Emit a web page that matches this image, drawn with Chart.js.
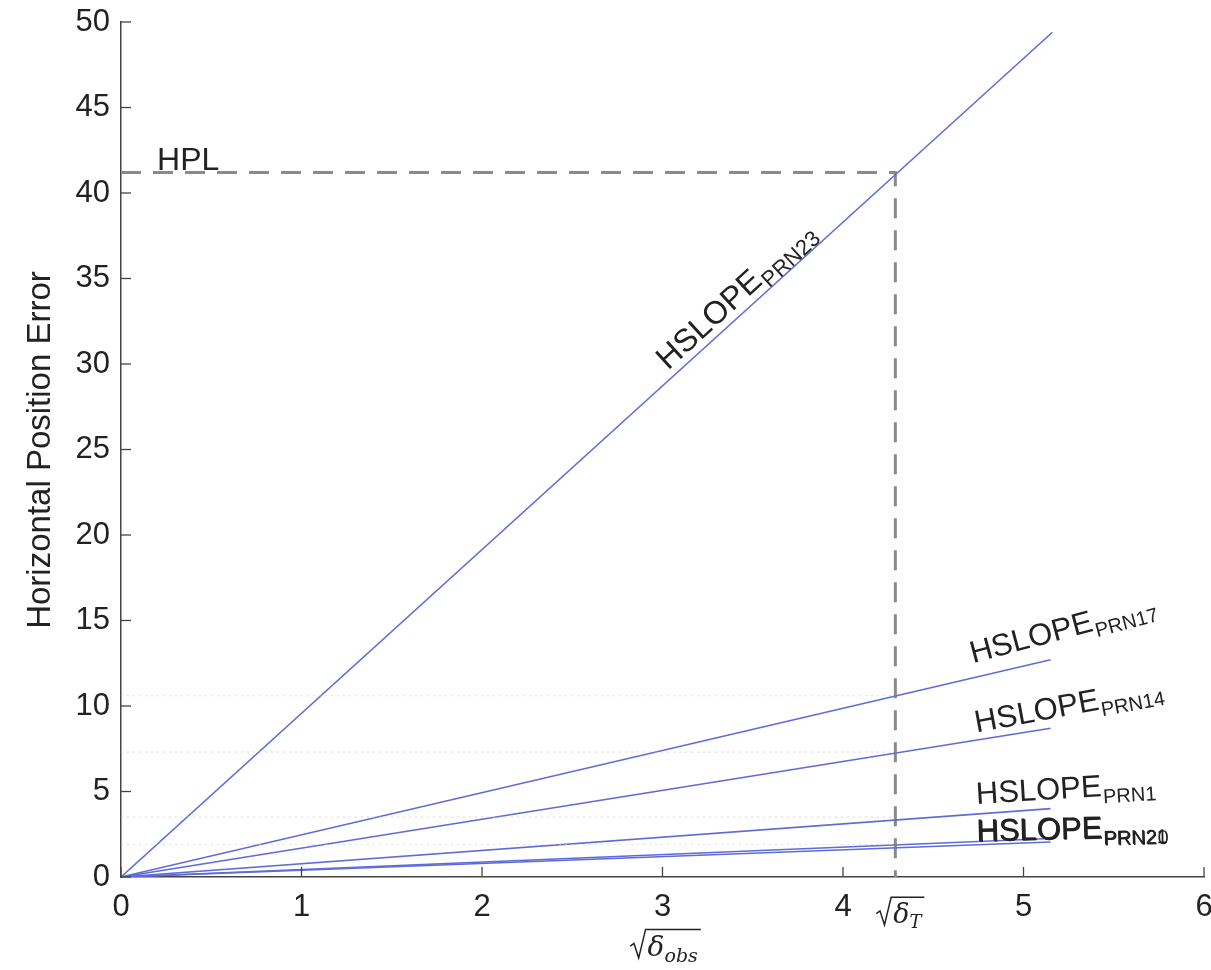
<!DOCTYPE html>
<html>
<head>
<meta charset="utf-8">
<script src="https://cdn.jsdelivr.net/npm/chart.js@4.4.1/dist/chart.umd.min.js"></script>
<style>
  html, body { margin: 0; padding: 0; background: #fff; }
  #wrap { width: 1211px; height: 970px; position: relative; }
</style>
</head>
<body>
<div id="wrap"><canvas id="c"></canvas></div>
<script>
// ---- data ----
const seriesNames = ['PRN23', 'PRN17', 'PRN14', 'PRN1', 'PRN21', 'PRN20'];
const startX = [0, 0, 0, 0, 0, 0];
const startY = [0, 0, 0, 0, 0, 0];
const endX   = [5.16, 5.15, 5.15, 5.15, 5.15, 5.15];
const endY   = [49.4, 12.7, 8.7, 4.0, 2.25, 2.05];

const hplValue = 41.2;        // HPL level
const deltaT = 4.29;          // sqrt(delta_T)
const guideLevels = [10.6, 7.3, 3.5, 1.9]; // faint dotted guides

const xTicks = [0, 1, 2, 3, 4, 5, 6];
const yTicks = [0, 5, 10, 15, 20, 25, 30, 35, 40, 45, 50];

// label anchors (data coordinates) and rotation in degrees
const labelX     = [3.03, 4.72, 4.74, 4.74, 4.74, 4.745];
const labelY     = [29.6, 12.5, 8.45, 4.27, 2.1, 2.05];
const labelAngle = [-42.5, -15, -10.5, -3.5, -1.5, -1.5];
const labelSize  = [32, 31, 31, 31, 31, 31];
const labelSub   = [22, 20, 20, 20, 20, 20];

// ---- datasets ----
const lineColor = 'rgb(95,108,215)';
const datasets = [];
guideLevels.forEach(v => {
  datasets.push({
    data: [{x: 0, y: v}, {x: deltaT, y: v}],
    borderColor: 'rgba(200,200,200,0.6)', borderWidth: 1.2, borderDash: [2, 4],
    showLine: true, pointRadius: 0, fill: false
  });
});
seriesNames.forEach((n, i) => {
  datasets.push({
    label: n,
    data: [{x: startX[i], y: startY[i]}, {x: endX[i], y: endY[i]}],
    borderColor: lineColor, borderWidth: 1.6,
    showLine: true, pointRadius: 0, fill: false
  });
});
datasets.push({
  label: 'HPL',
  data: [{x: 0, y: hplValue}, {x: deltaT, y: hplValue}, {x: deltaT, y: 0}],
  borderColor: '#8a8a8a', borderWidth: 3, borderDash: [20, 12],
  showLine: true, pointRadius: 0, fill: false
});

const FONT = '"Liberation Sans", Arial, Helvetica, sans-serif';
const TXT = '#222';

function drawSub(ctx, main, sub, x, y, deg, size, subSize) {
  ctx.save();
  ctx.translate(x, y);
  ctx.rotate(deg * Math.PI / 180);
  ctx.fillStyle = TXT;
  ctx.textBaseline = 'alphabetic';
  ctx.textAlign = 'left';
  ctx.font = size + 'px ' + FONT;
  ctx.fillText(main, 0, 0);
  const w = ctx.measureText(main).width;
  ctx.font = subSize + 'px ' + FONT;
  ctx.fillText(sub, w + 1, subSize * 0.35);
  ctx.restore();
}

function drawRadical(ctx, cx, baseline, sym, sub, symSize, subSize) {
  ctx.save();
  ctx.fillStyle = TXT;
  ctx.strokeStyle = TXT;
  ctx.textBaseline = 'alphabetic';
  ctx.textAlign = 'left';
  ctx.font = 'italic ' + symSize + 'px "DejaVu Serif", serif';
  const ws = ctx.measureText(sym).width;
  ctx.font = 'italic ' + subSize + 'px "DejaVu Serif", serif';
  const wsub = ctx.measureText(sub).width;
  const radW = symSize * 0.55;
  const total = radW + ws + wsub + 3;
  let x = cx - total / 2;
  const top = baseline - symSize * 0.95;
  // radical sign
  ctx.lineWidth = 1.5;
  ctx.beginPath();
  ctx.moveTo(x, baseline - symSize * 0.35);
  ctx.lineTo(x + radW * 0.25, baseline - symSize * 0.45);
  ctx.lineTo(x + radW * 0.55, baseline + 2);
  ctx.lineTo(x + radW, top);
  ctx.lineTo(x + total + 2, top);
  ctx.stroke();
  x += radW + 2;
  ctx.font = 'italic ' + symSize + 'px "DejaVu Serif", serif';
  ctx.fillText(sym, x, baseline);
  x += ws;
  ctx.font = 'italic ' + subSize + 'px "DejaVu Serif", serif';
  ctx.fillText(sub, x, baseline + subSize * 0.3);
  ctx.restore();
}

const annot = {
  id: 'annot',
  afterDraw(chart) {
    const ctx = chart.ctx;
    const xs = chart.scales.x, ys = chart.scales.y;
    const ca = chart.chartArea;
    // inward tick marks
    ctx.save();
    ctx.strokeStyle = '#444';
    ctx.lineWidth = 1.3;
    xTicks.forEach(v => {
      const px = xs.getPixelForValue(v);
      ctx.beginPath(); ctx.moveTo(px, ca.bottom); ctx.lineTo(px, ca.bottom - 10); ctx.stroke();
    });
    yTicks.forEach(v => {
      const py = ys.getPixelForValue(v);
      ctx.beginPath(); ctx.moveTo(ca.left, py); ctx.lineTo(ca.left + 10, py); ctx.stroke();
    });
    ctx.restore();
    // series labels
    seriesNames.forEach((n, i) => {
      drawSub(ctx, 'HSLOPE', n, xs.getPixelForValue(labelX[i]), ys.getPixelForValue(labelY[i]),
        labelAngle[i], labelSize[i], labelSub[i]);
    });
    // HPL label
    ctx.save();
    ctx.fillStyle = TXT;
    ctx.font = '32px ' + FONT;
    ctx.textBaseline = 'alphabetic';
    ctx.fillText('HPL', xs.getPixelForValue(0.2), ys.getPixelForValue(hplValue) - 2);
    // y axis title
    ctx.translate(41, 450);
    ctx.rotate(-Math.PI / 2);
    ctx.textAlign = 'center';
    ctx.textBaseline = 'middle';
    ctx.font = '33px ' + FONT;
    ctx.fillText('Horizontal Position Error', 0, 0);
    ctx.restore();
    // x axis title and delta_T tick label
    drawRadical(ctx, (ca.left + ca.right) / 2 + 2, 956, 'δ', 'obs', 28, 19);
    drawRadical(ctx, xs.getPixelForValue(deltaT) + 4, 923, 'δ', 'T', 27, 18);
  }
};

new Chart(document.getElementById('c'), {
  type: 'scatter',
  data: { datasets },
  options: {
    responsive: true,
    maintainAspectRatio: false,
    animation: false,
    layout: { padding: { top: 22, right: 7, left: 0, bottom: 0 } },
    plugins: { legend: { display: false }, tooltip: { enabled: false } },
    scales: {
      x: {
        type: 'linear', min: 0, max: 6,
        grid: { display: false, drawTicks: false },
        border: { display: true, color: '#444', width: 1.5 },
        ticks: {
          stepSize: 1, padding: 12, color: TXT,
          font: { family: FONT, size: 31 },
          callback: v => (xTicks.includes(v) ? String(v) : '')
        },
        afterFit(s) { s.height = 93; s.paddingLeft = 0; s.paddingRight = 0; }
      },
      y: {
        type: 'linear', min: 0, max: 50,
        grid: { display: false, drawTicks: false },
        border: { display: true, color: '#444', width: 1.5 },
        ticks: {
          stepSize: 5, padding: 11, color: TXT,
          font: { family: FONT, size: 31 },
          callback: v => (yTicks.includes(v) ? String(v) : '')
        },
        afterFit(s) { s.width = 121; s.paddingTop = 0; s.paddingBottom = 0; }
      }
    }
  },
  plugins: [annot]
});
</script>
</body>
</html>
